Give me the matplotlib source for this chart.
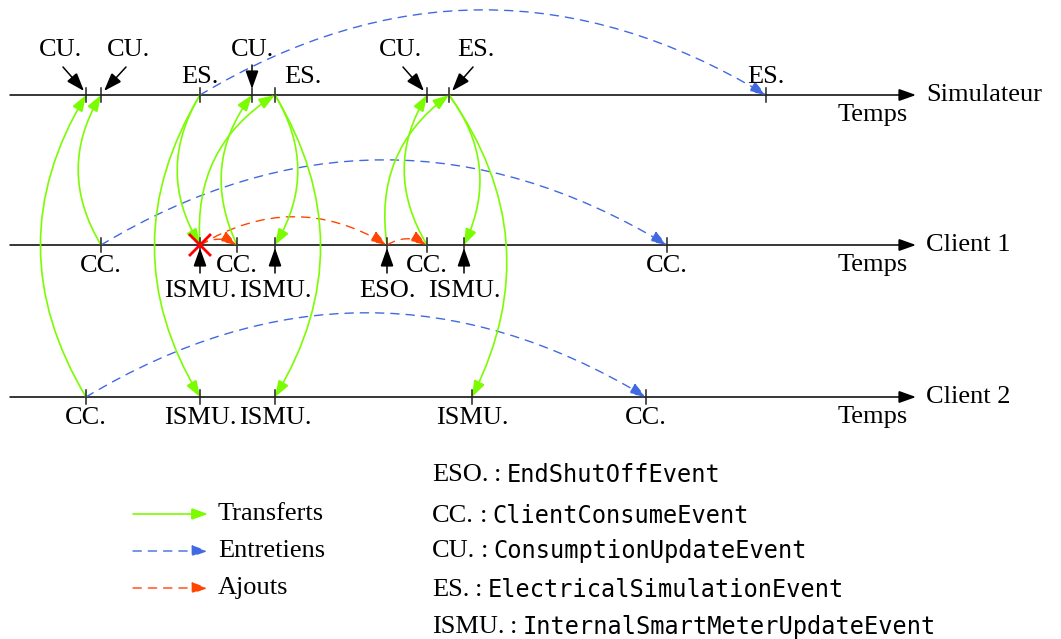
import matplotlib
matplotlib.use("Agg")
import matplotlib.pyplot as plt
from matplotlib.patches import FancyArrowPatch

# ---------------- data ----------------
line_names = ["Simulateur", "Client 1", "Client 2"]

sim_events = [86, 101, 200, 252, 275, 427, 449, 766]
c1_events = [101, 200, 237, 275, 387, 427, 464, 667]
c2_events = [86, 200, 275, 472, 646]
c2_labels = ["CC.", "ISMU.", "ISMU.", "ISMU.", "CC."]

sim_label_text = ["CU.", "CU.", "ES.", "CU.", "ES.", "CU.", "ES.", "ES."]
c1_upper_text = ["CC.", "CC.", "CC.", "CC."]
c1_upper_time = [101, 237, 427, 667]
c1_lower_text = ["ISMU.", "ISMU.", "ESO.", "ISMU."]
c1_lower_time = [200, 275, 387, 464]

# transfers: (from line, from time, to line, to time)
transfers = [(2, 86, 0, 86), (1, 101, 0, 101), (0, 200, 1, 200), (0, 200, 2, 200),
             (1, 200, 0, 275), (1, 237, 0, 252), (0, 275, 1, 275), (0, 275, 2, 275),
             (1, 387, 0, 449), (1, 427, 0, 427), (0, 449, 1, 464), (0, 449, 2, 472)]
transfer_bend = [-1, -1, 1, 1, -1, -1, -1, -1, -1, -1, -1, -1]
maintenance = [(0, 200, 0, 766), (1, 101, 1, 667), (2, 86, 2, 646)]
additions = [(1, 200, 1, 387), (1, 200, 1, 237), (1, 387, 1, 427)]
cancelled = (1, 200)

legend_names = ["Transferts", "Entretiens", "Ajouts"]
abbrevs = ["ESO.", "CC.", "CU.", "ES.", "ISMU."]
fullnames = ["EndShutOffEvent", "ClientConsumeEvent", "ConsumptionUpdateEvent",
             "ElectricalSimulationEvent", "InternalSmartMeterUpdateEvent"]

# ---------------- layout / style ----------------
LINE_Y = [95, 245, 397]
X0, X1 = 10, 916
GREEN = "#7CFC00"
BLUE = "#4169E1"
RED = "#FF4500"
SERIF = "Liberation Serif"
MONO = "DejaVu Sans Mono"
FS = 19

fig = plt.figure(figsize=(10.61, 6.39), dpi=100)
ax = fig.add_axes([0, 0, 1, 1])
ax.set_xlim(0, 1061)
ax.set_ylim(639, 0)
ax.axis("off")


def arrow(p, q, color, rad=0.0, ls="-", lw=1.2, head=True, ms=14, z=2):
    style = "-|>,head_length=0.7,head_width=0.25" if head else "-"
    a = FancyArrowPatch(p, q, arrowstyle=style, connectionstyle=f"arc3,rad={rad}",
                        mutation_scale=ms, color=color, lw=lw, linestyle=ls,
                        shrinkA=0, shrinkB=0, zorder=z, joinstyle="miter")
    ax.add_patch(a)
    return a


# time axes
for name, y in zip(line_names, LINE_Y):
    arrow((X0, y), (X1, y), "black", lw=1.1, ms=15, z=1)
    ax.text(926, y, name, family=SERIF, fontsize=FS, va="center", ha="left")
    ax.text(908, y + 20, "Temps", family=SERIF, fontsize=FS, va="center", ha="right")

# ticks
for evs, y in zip([sim_events, c1_events, c2_events], LINE_Y):
    for x in evs:
        ax.plot([x, x], [y - 7, y + 7], color="#222222", lw=1.1, zorder=3)

# simulator labels
sim_label_pos = [(60, 50), (128, 50), (200, 77), (252, 50), (303, 77), (400, 50), (476, 50), (766, 77)]
sim_pointer = [((63, 67), (84, 91)), ((126, 67), (104, 91)), None, ((252, 65), (252, 89)),
               None, ((403, 67), (424, 91)), ((473, 67), (452, 91)), None]
for txt, pos, ptr in zip(sim_label_text, sim_label_pos, sim_pointer):
    ax.text(pos[0], pos[1], txt, family=SERIF, fontsize=FS, ha="center", va="center", zorder=4)
    if ptr is not None:
        arrow(ptr[0], ptr[1], "black", lw=1.1, ms=16, z=4)

# client 1 labels
for txt, x in zip(c1_upper_text, c1_upper_time):
    ax.text(x, 266, txt, family=SERIF, fontsize=FS, ha="center", va="center")
for txt, x in zip(c1_lower_text, c1_lower_time):
    ax.text(x, 291, txt, family=SERIF, fontsize=FS, ha="center", va="center")
    arrow((x, 273), (x, 248), "black", lw=1.1, ms=16, z=4)

# client 2 labels
for txt, x in zip(c2_labels, c2_events):
    ax.text(x, 418, txt, family=SERIF, fontsize=FS, ha="center", va="center")

# maintenance (blue dashed)
for (la, ta, lb, tb) in maintenance:
    arrow((ta, LINE_Y[la]), (tb, LINE_Y[lb]), BLUE, rad=-0.30, ls=(0, (6, 5)), lw=1.0)

# additions (red dashed)
for (la, ta, lb, tb) in additions:
    arrow((ta, LINE_Y[la]), (tb, LINE_Y[lb]), RED, rad=-0.30, ls=(0, (6, 5)), lw=1.0)

# transfers (green)
for (la, ta, lb, tb), b in zip(transfers, transfer_bend):
    arrow((ta, LINE_Y[la]), (tb, LINE_Y[lb]), GREEN, rad=0.30 * b, lw=1.2)

# cancelled event
cl, ct = cancelled
cy = LINE_Y[cl]
ax.plot([ct - 10, ct + 10], [cy - 10, cy + 10], color="red", lw=2, zorder=5)
ax.plot([ct - 10, ct + 10], [cy + 10, cy - 10], color="red", lw=2, zorder=5)

# legend
leg_y = [514, 551, 588]
leg_col = [GREEN, BLUE, RED]
leg_ls = ["-", (0, (6, 5)), (0, (6, 5))]
for name, y, c, ls in zip(legend_names, leg_y, leg_col, leg_ls):
    arrow((133, y), (208, y), c, ls=ls, lw=1.2 if ls == "-" else 1.0)
    ax.text(218, y, name, family=SERIF, fontsize=FS, ha="left", va="center")

# definitions
def_y = [475, 516, 551, 590, 627]
for ab, full, y in zip(abbrevs, fullnames, def_y):
    t = ax.text(432, y, ab, family=SERIF, fontsize=FS, ha="left", va="center")
    c = ax.annotate(":", xy=(1, 0.5), xycoords=t, xytext=(4, 0), textcoords="offset points",
                    family=SERIF, fontsize=FS, ha="left", va="center")
    ax.annotate(full, xy=(1, 0.5), xycoords=c, xytext=(4, 0), textcoords="offset points",
                family=MONO, fontsize=17, ha="left", va="center")

fig.savefig("out.png", dpi=100)
